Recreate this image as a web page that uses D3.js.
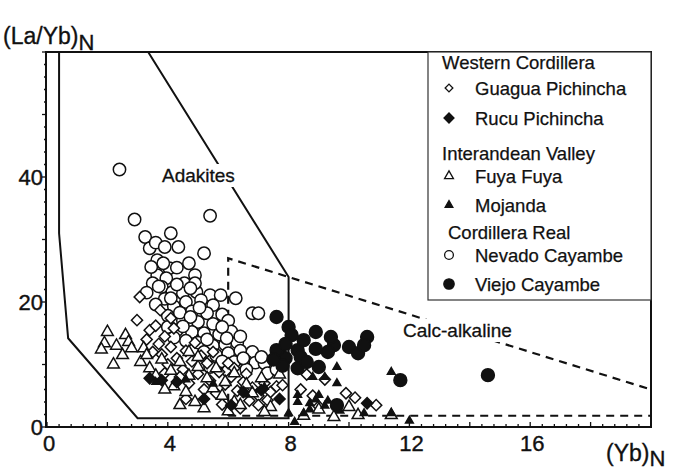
<!DOCTYPE html>
<html><head><meta charset="utf-8">
<script src="https://cdn.jsdelivr.net/npm/d3@7"></script>
<style>body{margin:0;background:#fff}svg{display:block}text{font-family:"Liberation Sans",Arial,sans-serif;fill:#111}</style>
</head><body><svg id="c" width="682" height="470"></svg>
<script>
const xTickLabels=[0,4,8,12,16];
const yTickLabels=[0,20,40];
const nevadoCayambe=[[2.4,41.2],[2.9,33.2],[5.4,33.8],[3.25,30.4],[4.1,31],[3.4,28.6],[3.6,29.5],[3.9,28.8],[4.35,28.8],[5.2,27.8],[3.65,26.7],[4.05,25.4],[4.3,25.5],[3.65,24.3],[3.95,23.8],[4.9,24.3],[3.5,23],[3.8,22.4],[4.55,23],[4.15,21.6],[4.5,21.4],[4.95,21.6],[5.4,21.1],[5.75,21.1],[6.25,20.6],[3.7,22.5],[4.3,22.8],[3.9,20.5],[4.6,20],[5.1,20.3],[5.5,19.5],[4.2,19.3],[4.8,18.5],[5.3,18.2],[5.8,18],[6.8,18.2],[7.0,18.2],[4.0,17.8],[4.5,17],[5.0,16.8],[5.5,16.5],[6.0,17],[4.3,15.5],[4.8,15.2],[5.2,15],[5.7,14.8],[6.1,15.3],[4.6,13.8],[5.0,13.5],[5.5,13],[5.9,13.2],[6.3,13.5],[5.2,12],[5.6,11.5],[6.0,11.8],[6.4,12.2],[6.8,12],[5.8,10.5],[6.2,10.4],[6.6,10.5],[6.9,10.3],[7.2,10.2],[4.2,14.3],[4.4,18.3],[3.6,19.6],[4.9,23],[5.8,16],[6.4,14.5],[4.0,16],[7.1,11.2],[6.6,9.2],[7.3,8.6],[6.0,9.0],[5.4,9.6],[7.6,9.2],[3.3,21.5],[4.7,26.2],[3.45,25.6],[4.75,17.6],[5.3,14],[4.1,20.6],[4.75,22.2],[3.85,26.2],[5.05,19.1],[6.5,11],[5.95,14.2],[4.5,16.1]];
const guaguaPichincha=[[3.07,20.8],[2.98,17.1],[3.4,15.5],[3.75,18.7],[3.6,16.2],[3.9,14.5],[4.1,12.8],[3.7,13.3],[4.3,11],[4.6,12.2],[4.0,10],[4.5,9.2],[4.8,10.5],[5.0,8.5],[5.3,10.2],[5.4,7.4],[5.7,8.8],[5.9,6.8],[6.1,8],[6.3,5.8],[6.5,7.2],[6.8,6.3],[7.0,5],[7.2,7],[7.4,5.6],[7.6,6.5],[7.8,6.7],[7.0,3.5],[6.7,4.2],[5.6,5.4],[5.2,6],[4.7,7],[4.4,8],[3.9,8.6],[3.5,12],[4.2,15.8],[4.9,13.5],[5.5,12],[6.0,10.2],[6.6,8.5],[7.3,4.3],[8.4,6],[8.8,5],[9.2,7.6],[9.9,5.4],[10.2,4.7],[10.9,3.5],[8.6,8.4],[9.0,3.3],[4.6,4.5],[5.8,3.6],[6.4,3.0],[3.8,11.6],[4.1,17.4],[5.1,11.4],[6.2,9.4],[3.3,14]];
const rucuPichincha=[[3.4,7.8],[3.8,7.5],[6.1,3.5],[6.5,5.6],[7.1,5.9],[9.6,3.5],[10.6,3.8],[5.2,4.5],[4.3,7.2],[7.7,4.5]];
const fuyaFuya=[[2.0,15.2],[1.9,13.4],[2.2,10],[2.5,11.5],[2.6,14.7],[2.7,13.6],[2.8,12.6],[3.1,10.4],[3.2,12.6],[3.3,11.5],[3.4,9.4],[1.8,12.4],[2.3,13],[3.8,10.8],[4.1,9],[4.4,10.4],[4.7,8.2],[5.0,9.6],[5.3,7.8],[5.6,9.4],[5.9,7.2],[6.2,8.6],[4.2,6.5],[4.6,5.6],[4.9,4],[5.2,3],[5.5,6.2],[5.8,5],[6.2,4],[6.4,3.5],[6.8,5.4],[7.1,7.8],[7.4,3.2],[7.7,8.4],[3.6,8.2],[3.9,6],[4.4,3.5],[6.0,2.5],[7.2,2.4],[10.0,3.2],[10.3,1.9],[11.4,1.9],[9.5,1.6],[9.0,2.8],[8.5,1.8],[6.6,6.8],[5.0,11.2],[4.7,12]];
const mojanda=[[9.6,9.6],[11.4,8.8],[8.8,8],[9.2,8],[9.6,7],[8.3,5.1],[9.0,5.1],[9.3,4.2],[8.7,3.8],[8.9,4.4],[10.5,2.2],[11.4,2.2],[8.5,2.2],[8.2,0.8],[8.7,2.8],[9.2,3.4],[9.7,2.6],[12.0,1.0],[8.0,2.2],[8.3,4],[6.6,5.2],[7.2,6.4],[5.5,6.9],[4.6,7.6],[3.6,7.2]];
const viejoCayambe=[[7.6,17.6],[8.0,16],[8.9,15.2],[9.5,13.1],[9.3,12],[10.0,12.8],[10.3,11.8],[10.6,14.4],[10.5,13.1],[7.7,11.8],[7.9,11],[8.3,12.3],[8.4,11.2],[8.3,9.4],[9.0,9.6],[8.5,13.9],[8.1,14.7],[11.7,7.5],[14.6,8.3],[9.6,3.5],[7.6,12.3],[7.8,9.8],[8.6,10.4],[8.9,12.5],[9.4,14.4],[7.9,13.3],[7.5,10.8]];
const adakiteField=[[0.4,60],[0.4,31],[0.7,14.2],[3.0,1.4],[8,1.4],[8,24],[3.35,60]];
const calcAlkalineField=[[6,1.8],[6,27],[20,6]];
const calcBottom=[[6,1.8],[20,1.8]];

const svg=d3.select("#c");
const L=47,R=651,T=52,B=427;
const x=d3.scaleLinear().domain([0,20]).range([L,R]);
const y=d3.scaleLinear().domain([0,60]).range([B,T]);
const ink="#111";

// fields
const line=d3.line().x(d=>x(d[0])).y(d=>y(d[1]));
svg.append("path").attr("d",line(adakiteField)).attr("fill","none").attr("stroke",ink).attr("stroke-width",2);
svg.append("path").attr("d",line(calcAlkalineField)).attr("fill","none").attr("stroke",ink).attr("stroke-width",2.2).attr("stroke-dasharray","8,6");
svg.append("path").attr("d",line(calcBottom)).attr("fill","none").attr("stroke",ink).attr("stroke-width",1.8).attr("stroke-dasharray","8,6");

// field labels with white backing
function fieldLabel(txt,px,py){
  const t=svg.append("text").attr("x",px).attr("y",py).attr("font-size",19).attr("stroke",ink).attr("stroke-width",0.3).text(txt);
  const bb=t.node().getBBox();
  svg.insert("rect","text").attr("x",bb.x-3).attr("y",bb.y-1).attr("width",bb.width+6).attr("height",bb.height+2).attr("fill","#fff");
}
fieldLabel("Adakites",162,182);
fieldLabel("Calc-alkaline",403,337);

// points
function plot(data,type,size,filled){
  const sym=d3.symbol().type(type).size(size);
  svg.append("g").selectAll("path").data(data).join("path")
    .attr("d",sym)
    .attr("transform",d=>`translate(${x(d[0])},${y(d[1])})${type===d3.symbolSquare?" rotate(45)":""}`)
    .attr("fill",filled?ink:"#fff").attr("stroke",ink).attr("stroke-width",1.5);
}
plot(nevadoCayambe,d3.symbolCircle,120,false);
plot(guaguaPichincha,d3.symbolSquare,62,false);
plot(fuyaFuya,d3.symbolTriangle,60,false);
plot(rucuPichincha,d3.symbolSquare,62,true);
plot(mojanda,d3.symbolTriangle,26,true);
plot(viejoCayambe,d3.symbolCircle,130,true);

// frame
svg.append("rect").attr("x",L-1).attr("y",T).attr("width",R-L+1).attr("height",B-T).attr("fill","none").attr("stroke",ink).attr("stroke-width",2);

// axes ticks
const gx=svg.append("g");
d3.range(0,20.01,0.4).forEach(v=>{
  const major=Math.abs(v/2-Math.round(v/2))<1e-6;
  gx.append("line").attr("x1",x(v)).attr("x2",x(v)).attr("y1",B).attr("y2",B-(major?5:3)).attr("stroke",ink).attr("stroke-width",1.3);
});
xTickLabels.forEach(v=>gx.append("text").attr("x",x(v)+2).attr("y",B+24).attr("text-anchor","middle").attr("font-size",22).attr("stroke",ink).attr("stroke-width",0.4).text(v));
const gy=svg.append("g");
d3.range(0,60.01,2).forEach(v=>{
  const major=v%10===0;
  gy.append("line").attr("x1",L-1).attr("x2",L-1-(major?4:2)).attr("y1",y(v)).attr("y2",y(v)).attr("stroke",ink).attr("stroke-width",1.3);
});
yTickLabels.forEach(v=>gy.append("text").attr("x",L-4).attr("y",y(v)+8).attr("text-anchor","end").attr("font-size",22).attr("stroke",ink).attr("stroke-width",0.4).text(v));

// axis titles
const yt=svg.append("text").attr("x",3).attr("y",44).attr("font-size",23).attr("stroke",ink).attr("stroke-width",0.35);
yt.append("tspan").text("(La/Yb)");
yt.append("tspan").attr("dy",6).attr("font-size",22).text("N");
const xt=svg.append("text").attr("x",606).attr("y",461).attr("font-size",23).attr("stroke",ink).attr("stroke-width",0.35);
xt.append("tspan").text("(Yb)");
xt.append("tspan").attr("dy",5).attr("font-size",22).text("N");

// legend
const lg=svg.append("g");
lg.append("rect").attr("x",428).attr("y",T).attr("width",R-428).attr("height",248).attr("fill","#fff").attr("stroke","#333").attr("stroke-width",1.2);
const legendHeaders=[["Western Cordillera",442,69],["Interandean Valley",442,160],["Cordillera Real",448,239]];
legendHeaders.forEach(h=>lg.append("text").attr("x",h[1]).attr("y",h[2]).attr("font-size",18.5).attr("stroke",ink).attr("stroke-width",0.25).text(h[0]));
const legendItems=[["Guagua Pichincha",88,d3.symbolSquare,30,false],["Rucu Pichincha",118,d3.symbolSquare,50,true],["Fuya Fuya",176,d3.symbolTriangle,34,false],["Mojanda",205,d3.symbolTriangle,26,true],["Nevado Cayambe",255,d3.symbolCircle,60,false],["Viejo Cayambe",284,d3.symbolCircle,85,true]];
legendItems.forEach(it=>{
  lg.append("path").attr("d",d3.symbol().type(it[2]).size(it[3])())
    .attr("transform",`translate(449,${it[1]})${it[2]===d3.symbolSquare?" rotate(45)":""}`)
    .attr("fill",it[4]?ink:"#fff").attr("stroke",ink).attr("stroke-width",1.3);
  lg.append("text").attr("x",475).attr("y",it[1]+7).attr("font-size",18.5).attr("stroke",ink).attr("stroke-width",0.25).text(it[0]);
});
</script></body></html>
